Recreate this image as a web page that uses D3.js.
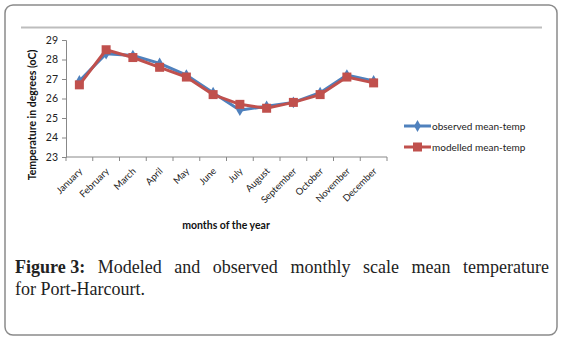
<!DOCTYPE html>
<html>
<head>
<meta charset="utf-8">
<script src="https://cdn.jsdelivr.net/npm/d3@7"></script>
<style>
  body { margin: 0; background: #fff; }
  #wrap { position: relative; width: 562px; height: 340px; }
  svg { position: absolute; left: 0; top: 0; }
  .cap {
    position: absolute; left: 15px; width: 534px;
    font-family: "Liberation Serif", "DejaVu Serif", serif; font-size: 18px;
    line-height: 22px; color: #222; white-space: nowrap;
  }
  .cap b { display: inline-block; }
  #cap1 { top: 256px; text-align: justify; text-align-last: justify; }
  #cap2 { top: 278px; }
</style>
</head>
<body>
<div id="wrap">
  <svg id="chart" width="562" height="340"></svg>
  <div class="cap" id="cap1"><b>Figure 3:</b> Modeled and observed monthly scale mean temperature</div>
  <div class="cap" id="cap2">for Port-Harcourt.</div>
</div>
<script>
// monthly means, degrees C
const months = ["January", "February", "March", "April", "May", "June", "July",
  "August", "September", "October", "November", "December"];
const observed = [26.9, 28.3, 28.2, 27.8, 27.2, 26.3, 25.4, 25.6, 25.8, 26.3, 27.2, 26.9];
const modelled = [26.7, 28.5, 28.1, 27.6, 27.1, 26.2, 25.7, 25.5, 25.8, 26.2, 27.1, 26.8];
const yTicks = [23, 24, 25, 26, 27, 28, 29];

const svg = d3.select("#chart");
const font = "Lato, 'Open Sans', sans-serif";

// outer figure frame
svg.append("rect")
  .attr("x", 5).attr("y", 5).attr("width", 552).attr("height", 330)
  .attr("rx", 8).attr("fill", "none").attr("stroke", "#8a8a8a").attr("stroke-width", 1.5);

svg.append("line")
  .attr("x1", 21).attr("x2", 542).attr("y1", 27.5).attr("y2", 27.5)
  .attr("stroke", "#bdbdbd").attr("stroke-width", 2);

const x = d3.scaleBand().domain(months).range([66, 387]);
const y = d3.scaleLinear().domain([23, 29]).range([157, 40]);

// y axis
const yAxis = svg.append("g").attr("transform", "translate(66,0)")
  .call(d3.axisLeft(y).tickValues(yTicks).tickFormat(d3.format("d")).tickSize(4).tickPadding(4));
yAxis.selectAll("text").attr("font-family", font).attr("font-size", 10.5).attr("fill", "#222");
yAxis.selectAll("line, path").attr("stroke", "#888");

// x axis: ticks on category boundaries
const xAxis = svg.append("g").attr("transform", "translate(0,157)");
xAxis.append("line").attr("x1", 66).attr("x2", 387).attr("stroke", "#888");
xAxis.selectAll(".tk").data(months.concat(["end"])).enter().append("line")
  .attr("x1", (d, i) => 66 + i * x.step()).attr("x2", (d, i) => 66 + i * x.step())
  .attr("y1", 0).attr("y2", 4).attr("stroke", "#888");
xAxis.selectAll(".lbl").data(months).enter().append("text")
  .attr("transform", d => `translate(${x(d) + x.bandwidth() / 2 - 1},${10}) rotate(-45)`)
  .attr("text-anchor", "end").attr("dy", "0.7em")
  .attr("font-family", font).attr("font-size", 9.5).attr("fill", "#222")
  .text(d => d);

// axis titles
svg.append("text")
  .attr("transform", "translate(36,115) rotate(-90)")
  .attr("text-anchor", "middle").attr("font-family", font).attr("font-weight", "bold")
  .attr("font-size", 10.5).attr("fill", "#111")
  .text("Temperature in degrees (oC)");
svg.append("text")
  .attr("x", 226).attr("y", 229).attr("text-anchor", "middle")
  .attr("font-family", font).attr("font-weight", "bold").attr("font-size", 10.5).attr("fill", "#111")
  .text("months of the year");

const cx = d => x(d) + x.bandwidth() / 2;
const line = d3.line().x((d, i) => cx(months[i])).y(d => y(d));

// observed series (blue, diamonds)
svg.append("path").datum(observed).attr("d", line)
  .attr("fill", "none").attr("stroke", "#4f81bd").attr("stroke-width", 3);
svg.selectAll(".obs").data(observed).enter().append("path")
  .attr("d", d3.symbol(d3.symbolDiamond, 40))
  .attr("transform", (d, i) => `translate(${cx(months[i])},${y(d)})`)
  .attr("fill", "#4f81bd");

// modelled series (red, squares)
svg.append("path").datum(modelled).attr("d", line)
  .attr("fill", "none").attr("stroke", "#c0504d").attr("stroke-width", 3);
svg.selectAll(".mod").data(modelled).enter().append("rect")
  .attr("x", (d, i) => cx(months[i]) - 4.5).attr("y", d => y(d) - 4.5)
  .attr("width", 9).attr("height", 9).attr("fill", "#c0504d");

// legend
const legend = [
  { name: "observed mean-temp", color: "#4f81bd", mark: "diamond", yy: 126 },
  { name: "modelled mean-temp", color: "#c0504d", mark: "square", yy: 147 }
];
legend.forEach(l => {
  const g = svg.append("g");
  g.append("line").attr("x1", 404).attr("x2", 431).attr("y1", l.yy).attr("y2", l.yy)
    .attr("stroke", l.color).attr("stroke-width", 3);
  if (l.mark === "diamond") {
    g.append("path").attr("d", d3.symbol(d3.symbolDiamond, 40))
      .attr("transform", `translate(417.5,${l.yy})`).attr("fill", l.color);
  } else {
    g.append("rect").attr("x", 413).attr("y", l.yy - 4.5).attr("width", 9).attr("height", 9)
      .attr("fill", l.color);
  }
  g.append("text").attr("x", 432).attr("y", l.yy).attr("dy", "0.35em")
    .attr("font-family", font).attr("font-size", 10).attr("fill", "#222").text(l.name);
});
</script>
</body>
</html>
